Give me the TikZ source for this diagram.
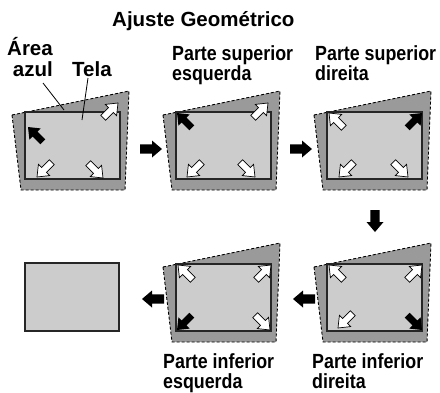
\documentclass[tikz,border=0pt]{standalone}
\usepackage{fontspec}
\setmainfont{Liberation Sans}
\newfontfamily\condfont[FakeStretch=0.87]{Liberation Sans}
\definecolor{outergray}{HTML}{9A9A9A}
\definecolor{screengray}{HTML}{CCCCCC}
\begin{document}
\begin{tikzpicture}[x=1pt,y=-1pt]
\useasboundingbox (0,0) rectangle (440,392);
\tikzset{
  outerq/.style={fill=outergray, draw=black, dash pattern=on 3pt off 2pt, line width=0.9pt},
  screenbox/.style={fill=screengray, draw=black!85, line width=1.4pt},
  titlefont/.style={font=\fontsize{20.5}{22}\selectfont\bfseries, inner sep=0pt},
  labfont/.style={font=\condfont\fontsize{20.5}{18}\selectfont\bfseries, inner sep=0pt, anchor=base west},
  leader/.style={draw=black, line width=0.8pt},
  warr/.pic={\filldraw[fill=white,draw=black,line width=0.7pt]
     (0,0) -- (-10,8) -- (-10,3.4) -- (-21,3.4) -- (-21,-3.4) -- (-10,-3.4) -- (-10,-8) -- cycle;},
  barr/.pic={\fill[black]
     (0,0) -- (-10,8) -- (-10,3.4) -- (-21,3.4) -- (-21,-3.4) -- (-10,-3.4) -- (-10,-8) -- cycle;},
  flowarr/.pic={\fill[black]
     (0,0) -- (-10,8.5) -- (-10,4.6) -- (-22,4.6) -- (-22,-4.6) -- (-10,-4.6) -- (-10,-8.5) -- cycle;}
}
% panel origins
\coordinate (p1) at (0,0);
\coordinate (p2) at (151,0);
\coordinate (p3) at (302,0);
\coordinate (p4) at (302,152);
\coordinate (p5) at (151,152);
\coordinate (p6) at (0,152);
% panel frames
\foreach \p in {p1,p2,p3,p4,p5}{
  \begin{scope}[shift={(\p)}]
    \path[outerq] (12,115) -- (129,91) -- (125,190) -- (21,190) -- cycle;
    \path[screenbox] (25,112) rectangle (120,179);
  \end{scope}
}
\begin{scope}[shift={(p6)}]
  \path[screenbox] (25,111) rectangle (119,179);
\end{scope}
% panel 1 arrows
\begin{scope}[shift={(p1)}]
  \pic[rotate=135] at (28,127) {barr};
  \pic[rotate=45] at (118,103) {warr};
  \pic[rotate=-135] at (37,177) {warr};
  \pic[rotate=-45] at (103,178) {warr};
\end{scope}
% panel 2 arrows
\begin{scope}[shift={(p2)}]
  \pic[rotate=135] at (26,113) {barr};
  \pic[rotate=45] at (117,103) {warr};
  \pic[rotate=-135] at (36,177) {warr};
  \pic[rotate=-45] at (104,177) {warr};
\end{scope}
% panel 3 arrows
\begin{scope}[shift={(p3)}]
  \pic[rotate=135] at (27,113) {warr};
  \pic[rotate=45] at (120,113) {barr};
  \pic[rotate=-135] at (37,177) {warr};
  \pic[rotate=-45] at (106,177) {warr};
\end{scope}
% panel 4 arrows
\begin{scope}[shift={(p4)}]
  \pic[rotate=135] at (27,113) {warr};
  \pic[rotate=45] at (120,113) {warr};
  \pic[rotate=-135] at (36,176) {warr};
  \pic[rotate=-45] at (120,178) {barr};
\end{scope}
% panel 5 arrows
\begin{scope}[shift={(p5)}]
  \pic[rotate=135] at (27,113) {warr};
  \pic[rotate=45] at (120,113) {warr};
  \pic[rotate=-135] at (26,178) {barr};
  \pic[rotate=-45] at (119,178) {warr};
\end{scope}
% flow arrows
\pic at (162,149) {flowarr};
\pic at (312,149) {flowarr};
\pic[rotate=-90] at (375,232) {flowarr};
\pic[rotate=180] at (293,299) {flowarr};
\pic[rotate=180] at (142,299) {flowarr};
% texts
\node[titlefont, anchor=base west] (title) at (112,26) {Ajuste Geométrico};
\node[titlefont, anchor=base east] (area) at (53,55) {Área};
\node[titlefont, anchor=base east] (azul) at (53,76) {azul};
\node[titlefont, anchor=base west] (tela) at (72,76) {Tela};
\coordinate (areaend) at (64,110);
\coordinate (telaend) at (82,120);
\draw[leader] (43,83) -- (areaend);
\draw[leader] (88,78) -- (telaend);
\node[labfont] (l2a) at (172,60.5) {Parte superior};
\node[labfont] (l2b) at (172,80) {esquerda};
\node[labfont] (l3a) at (315,60.5) {Parte superior};
\node[labfont] (l3b) at (315,80) {direita};
\node[labfont] (l5a) at (163,368.5) {Parte inferior};
\node[labfont] (l5b) at (163,388) {esquerda};
\node[labfont] (l4a) at (312,368) {Parte inferior};
\node[labfont] (l4b) at (312,388) {direita};
\end{tikzpicture}
\end{document}
